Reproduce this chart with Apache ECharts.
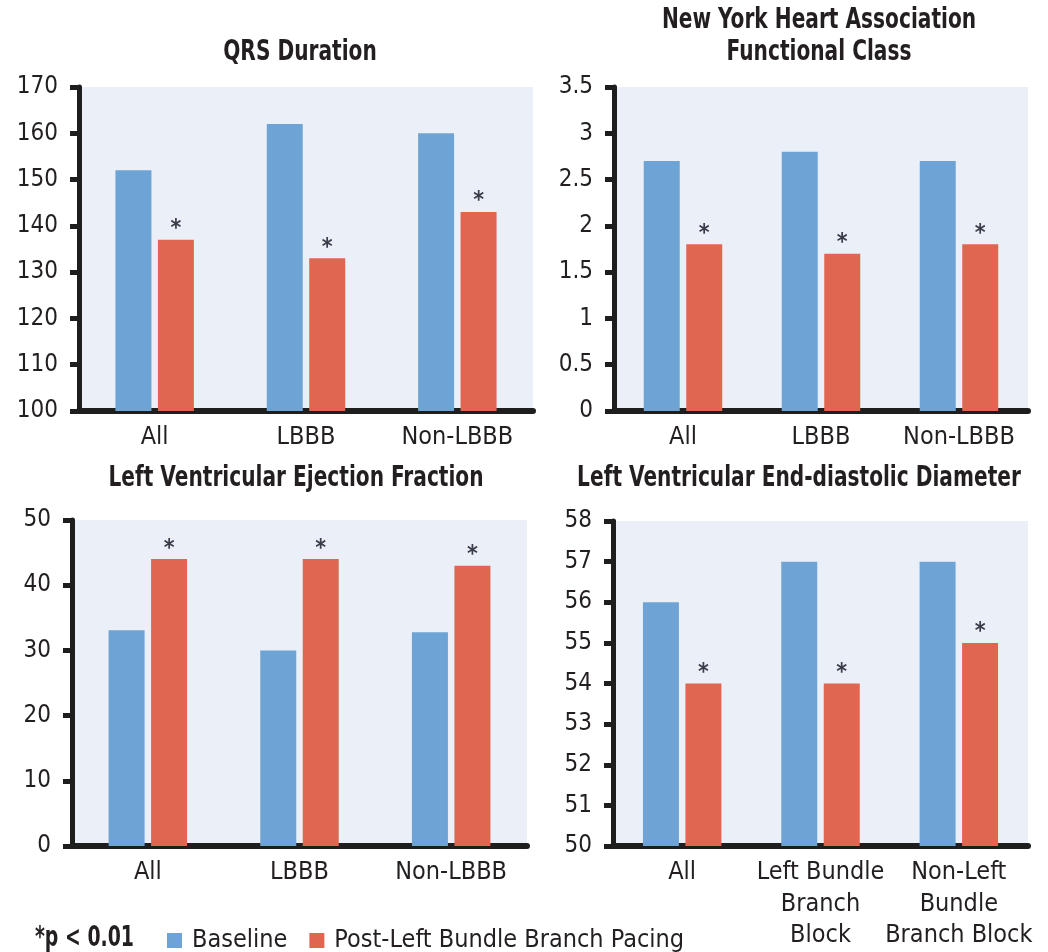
<!DOCTYPE html>
<html>
<head>
<meta charset="utf-8">
<script src="https://cdn.jsdelivr.net/npm/echarts@6/dist/echarts.min.js"></script>
<style>
html,body{margin:0;padding:0;background:#fff;}
#chart{width:1048px;height:952px;}
</style>
</head>
<body>
<div id="chart"></div>
<script>
// ---- data ----
const groupCategories = ['All', 'LBBB', 'Non-LBBB'];
const lveddCategories = ['All', 'Left Bundle\nBranch\nBlock', 'Non-Left\nBundle\nBranch Block'];
const seriesNames = ['Baseline', 'Post-Left Bundle Branch Pacing'];
const panelTitles = ['QRS Duration', 'New York Heart Association\nFunctional Class', 'Left Ventricular Ejection Fraction', 'Left Ventricular End-diastolic Diameter'];
const qrsBaseline = [152, 162, 160];
const qrsPost = [137, 133, 143];
const nyhaBaseline = [2.7, 2.8, 2.7];
const nyhaPost = [1.8, 1.7, 1.8];
const lvefBaseline = [33.1, 30, 32.8];
const lvefPost = [44, 44, 43];
const lveddBaseline = [56, 57, 57];
const lveddPost = [54, 54, 55];
const yRanges = [[100, 170, 10], [0, 3.5, 0.5], [0, 50, 10], [50, 58, 1]];
const footnote = '*p < 0.01';

// ---- styling ----
const FONT = "'DejaVu Sans Condensed','Liberation Sans Narrow',sans-serif";
const TXT = '#231f20';
const BLUE = '#6ea4d5';
const RED = '#e06650';
const BG = '#ebf0f8';
const AX = '#1e1e1e';

const grids = [
  {left: 79, top: 87, width: 454, height: 324},
  {left: 614, top: 87, width: 414, height: 324},
  {left: 72, top: 520, width: 455, height: 326},
  {left: 613, top: 521, width: 415, height: 325}
];
const cats = [groupCategories, groupCategories, groupCategories, lveddCategories];
const baseData = [qrsBaseline, nyhaBaseline, lvefBaseline, lveddBaseline];
const postData = [qrsPost, nyhaPost, lvefPost, lveddPost];
const titlePos = [[300, 37], [819, 5], [296, 463], [799, 463]];

const titleGraphics = panelTitles.map((t, i) => ({
  type: 'text', x: titlePos[i][0], y: titlePos[i][1], scaleX: 0.8,
  style: {text: t, font: "bold 28px " + FONT, fill: TXT, align: 'center', verticalAlign: 'top', lineHeight: 32}
}));

const option = {
  backgroundColor: '#fff',
  animation: false,
  textStyle: {fontFamily: FONT},
  legend: {
    data: seriesNames, left: 167, top: 928, padding: 0, icon: 'rect', itemWidth: 15, itemHeight: 15, itemGap: 22,
    textStyle: {fontFamily: FONT, fontSize: 25, color: TXT, padding: [0, 0, 0, 5]}
  },
  graphic: titleGraphics.concat([{
    type: 'text', x: 35, y: 939, scaleX: 0.75,
    style: {text: footnote, font: "bold 28px " + FONT, fill: TXT, align: 'left', verticalAlign: 'middle'}
  }]),
  grid: grids.map(g => Object.assign({show: true, backgroundColor: BG, borderWidth: 0}, g)),
  xAxis: grids.map((g, i) => ({
    type: 'category', gridIndex: i, data: cats[i],
    axisLine: {lineStyle: {color: AX, width: 6}},
    axisTick: {show: false},
    axisLabel: {interval: 0, color: TXT, fontFamily: FONT, fontSize: 25, lineHeight: 31.5, margin: 11}
  })),
  yAxis: grids.map((g, i) => ({
    type: 'value', gridIndex: i, min: yRanges[i][0], max: yRanges[i][1], interval: yRanges[i][2],
    axisLine: {show: true, lineStyle: {color: AX, width: 5}},
    axisTick: {show: true, length: 9, lineStyle: {color: AX, width: 5}},
    splitLine: {show: false},
    axisLabel: {color: TXT, fontFamily: FONT, fontSize: 24, margin: 21}
  })),
  series: []
};
grids.forEach((g, i) => {
  option.series.push({
    name: seriesNames[0], type: 'bar', xAxisIndex: i, yAxisIndex: i, data: baseData[i],
    barWidth: 36, barGap: '18%', itemStyle: {color: BLUE}
  });
  option.series.push({
    name: seriesNames[1], type: 'bar', xAxisIndex: i, yAxisIndex: i, data: postData[i],
    barWidth: 36, barGap: '18%', itemStyle: {color: RED},
    label: {show: true, position: 'top', distance: -1, formatter: '*', fontFamily: FONT, fontWeight: 'bold', fontSize: 23, color: '#3b3d4a'}
  });
});
const chart = echarts.init(document.getElementById('chart'), null, {renderer: 'canvas'});
chart.setOption(option);
</script>
</body>
</html>
